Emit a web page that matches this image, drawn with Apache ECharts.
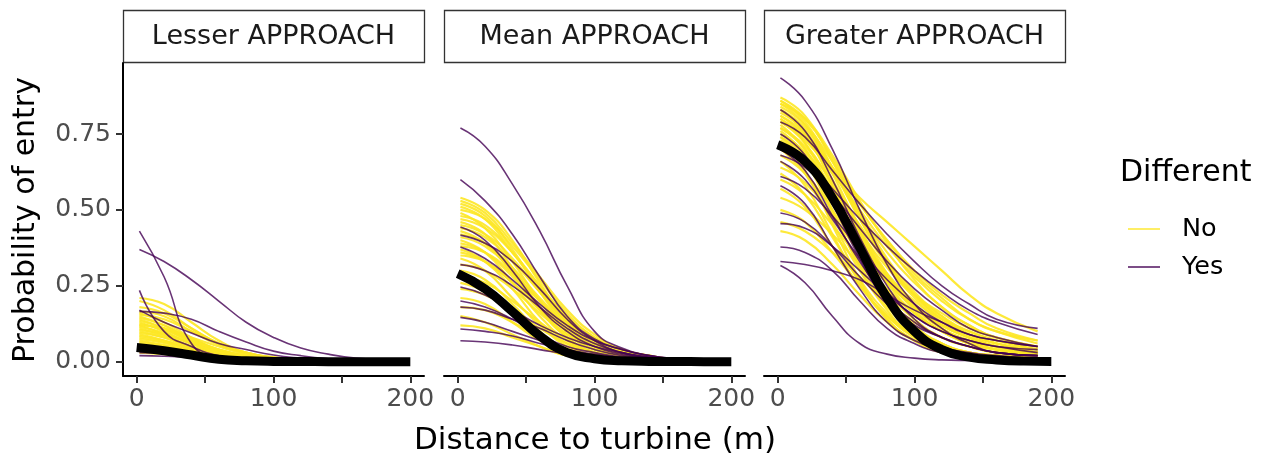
<!DOCTYPE html>
<html>
<head>
<meta charset="utf-8">
<script src="https://cdn.jsdelivr.net/npm/echarts@6/dist/echarts.min.js"></script>
<style>
html,body{margin:0;padding:0;background:#fff;}
#chart{width:1264px;height:460px;}
</style>
</head>
<body>
<div id="chart"></div>
<script>
// ---------------- DATA ----------------
const facetNames = ['Lesser APPROACH', 'Mean APPROACH', 'Greater APPROACH'];
const distance = [2, 20, 40, 60, 80, 100, 120, 140, 160, 190];
const meanDistance = [0, 20, 40, 60, 80, 100, 120, 140, 160, 180, 200];
const xTickValues = [0, 50, 100, 150, 200];
const xLabelValues = [0, 100, 200];
const yTickValues = [0, 0.25, 0.5, 0.75];
const legendNames = ['No', 'Yes'];

// Lesser APPROACH
const lesserNo = [
  [0.21, 0.19, 0.13, 0.07, 0.03, 0.015, 0.007, 0.003, 0.001, 0.001],
  [0.20, 0.17, 0.11, 0.06, 0.028, 0.012, 0.005, 0.002, 0.001, 0.001],
  [0.18, 0.16, 0.11, 0.06, 0.03, 0.012, 0.005, 0.002, 0.001, 0.001],
  [0.165, 0.15, 0.10, 0.055, 0.028, 0.013, 0.006, 0.003, 0.001, 0.001],
  [0.16, 0.13, 0.08, 0.04, 0.02, 0.008, 0.003, 0.001, 0.001, 0.001],
  [0.155, 0.14, 0.10, 0.06, 0.03, 0.014, 0.006, 0.003, 0.001, 0.001],
  [0.15, 0.12, 0.07, 0.035, 0.015, 0.006, 0.003, 0.001, 0.001, 0.001],
  [0.145, 0.12, 0.075, 0.04, 0.018, 0.008, 0.003, 0.001, 0.001, 0.001],
  [0.14, 0.11, 0.065, 0.03, 0.013, 0.005, 0.002, 0.001, 0.001, 0.001],
  [0.135, 0.11, 0.07, 0.038, 0.018, 0.008, 0.003, 0.001, 0.001, 0.001],
  [0.13, 0.10, 0.06, 0.03, 0.012, 0.005, 0.002, 0.001, 0.001, 0.001],
  [0.125, 0.105, 0.07, 0.04, 0.02, 0.009, 0.004, 0.002, 0.001, 0.001],
  [0.12, 0.11, 0.08, 0.05, 0.025, 0.012, 0.006, 0.003, 0.001, 0.001],
  [0.12, 0.09, 0.05, 0.025, 0.01, 0.004, 0.002, 0.001, 0.001, 0.001],
  [0.115, 0.095, 0.06, 0.03, 0.014, 0.006, 0.003, 0.001, 0.001, 0.001],
  [0.11, 0.085, 0.05, 0.024, 0.01, 0.004, 0.002, 0.001, 0.001, 0.001],
  [0.105, 0.09, 0.06, 0.032, 0.015, 0.007, 0.003, 0.001, 0.001, 0.001],
  [0.10, 0.08, 0.045, 0.02, 0.009, 0.004, 0.002, 0.001, 0.001, 0.001],
  [0.095, 0.08, 0.05, 0.026, 0.012, 0.005, 0.002, 0.001, 0.001, 0.001],
  [0.09, 0.07, 0.04, 0.02, 0.008, 0.003, 0.001, 0.001, 0.001, 0.001],
  [0.085, 0.07, 0.045, 0.024, 0.011, 0.005, 0.002, 0.001, 0.001, 0.001],
  [0.08, 0.065, 0.04, 0.018, 0.008, 0.003, 0.001, 0.001, 0.001, 0.001],
  [0.075, 0.062, 0.04, 0.02, 0.01, 0.004, 0.002, 0.001, 0.001, 0.001],
  [0.07, 0.055, 0.035, 0.016, 0.007, 0.003, 0.001, 0.001, 0.001, 0.001],
  [0.065, 0.054, 0.034, 0.018, 0.008, 0.003, 0.001, 0.001, 0.001, 0.001],
  [0.06, 0.05, 0.03, 0.014, 0.006, 0.002, 0.001, 0.001, 0.001, 0.001],
  [0.05, 0.04, 0.025, 0.012, 0.005, 0.002, 0.001, 0.001, 0.001, 0.001],
  [0.04, 0.032, 0.02, 0.01, 0.004, 0.002, 0.001, 0.001, 0.001, 0.001],
  [0.03, 0.025, 0.016, 0.008, 0.003, 0.001, 0.001, 0.001, 0.001, 0.001]
];
const lesserYes = [
  [0.43, 0.28, 0.06, 0.015, 0.006, 0.003, 0.002, 0.001, 0.001, 0.001],
  [0.37, 0.33, 0.27, 0.20, 0.13, 0.08, 0.045, 0.025, 0.012, 0.005],
  [0.235, 0.10, 0.05, 0.02, 0.008, 0.004, 0.002, 0.001, 0.001, 0.001],
  [0.166, 0.16, 0.14, 0.10, 0.065, 0.035, 0.02, 0.01, 0.005, 0.002],
  [0.17, 0.13, 0.095, 0.06, 0.04, 0.022, 0.012, 0.006, 0.003, 0.001],
  [0.04, 0.035, 0.025, 0.015, 0.008, 0.004, 0.002, 0.001, 0.001, 0.001],
  [0.03, 0.028, 0.022, 0.015, 0.009, 0.005, 0.003, 0.001, 0.001, 0.001],
  [0.02, 0.018, 0.014, 0.01, 0.006, 0.003, 0.002, 0.001, 0.001, 0.001]
];
const lesserMean = [0.047, 0.036, 0.022, 0.008, 0.003, 0.001, 0.0005, 0.0003, 0.0002, 0.0001, 0.0001];

// Mean APPROACH
const meanNo = [
  [0.54, 0.50, 0.40, 0.26, 0.14, 0.07, 0.03, 0.01, 0.005, 0.002],
  [0.53, 0.49, 0.39, 0.28, 0.17, 0.09, 0.04, 0.02, 0.008, 0.003],
  [0.52, 0.48, 0.37, 0.23, 0.12, 0.05, 0.02, 0.01, 0.004, 0.001],
  [0.51, 0.47, 0.36, 0.24, 0.13, 0.06, 0.025, 0.01, 0.004, 0.001],
  [0.50, 0.47, 0.38, 0.27, 0.16, 0.08, 0.04, 0.02, 0.008, 0.003],
  [0.49, 0.44, 0.33, 0.20, 0.10, 0.04, 0.02, 0.008, 0.003, 0.001],
  [0.48, 0.45, 0.36, 0.25, 0.15, 0.08, 0.035, 0.015, 0.006, 0.002],
  [0.47, 0.44, 0.36, 0.25, 0.14, 0.07, 0.03, 0.01, 0.005, 0.002],
  [0.46, 0.42, 0.31, 0.18, 0.08, 0.03, 0.01, 0.005, 0.002, 0.001],
  [0.45, 0.42, 0.34, 0.23, 0.13, 0.06, 0.03, 0.01, 0.005, 0.002],
  [0.44, 0.41, 0.33, 0.23, 0.13, 0.06, 0.03, 0.01, 0.005, 0.002],
  [0.43, 0.39, 0.29, 0.17, 0.08, 0.03, 0.01, 0.005, 0.002, 0.001],
  [0.42, 0.39, 0.31, 0.21, 0.12, 0.06, 0.025, 0.01, 0.004, 0.001],
  [0.41, 0.38, 0.30, 0.20, 0.11, 0.05, 0.02, 0.01, 0.004, 0.001],
  [0.40, 0.36, 0.26, 0.15, 0.07, 0.03, 0.01, 0.004, 0.002, 0.001],
  [0.39, 0.36, 0.28, 0.18, 0.10, 0.05, 0.02, 0.01, 0.004, 0.001],
  [0.38, 0.36, 0.29, 0.20, 0.12, 0.06, 0.03, 0.01, 0.005, 0.002],
  [0.37, 0.33, 0.24, 0.13, 0.06, 0.02, 0.01, 0.004, 0.002, 0.001],
  [0.36, 0.33, 0.26, 0.17, 0.09, 0.04, 0.02, 0.008, 0.003, 0.001],
  [0.35, 0.33, 0.26, 0.18, 0.10, 0.05, 0.02, 0.01, 0.004, 0.001],
  [0.34, 0.30, 0.21, 0.12, 0.05, 0.02, 0.01, 0.003, 0.001, 0.001],
  [0.32, 0.30, 0.24, 0.16, 0.09, 0.04, 0.02, 0.01, 0.003, 0.001],
  [0.30, 0.27, 0.19, 0.10, 0.04, 0.02, 0.01, 0.003, 0.001, 0.001],
  [0.28, 0.26, 0.20, 0.13, 0.07, 0.03, 0.01, 0.005, 0.002, 0.001],
  [0.26, 0.23, 0.16, 0.08, 0.03, 0.01, 0.005, 0.002, 0.001, 0.001],
  [0.24, 0.22, 0.17, 0.11, 0.06, 0.03, 0.01, 0.004, 0.002, 0.001],
  [0.21, 0.19, 0.13, 0.07, 0.03, 0.01, 0.004, 0.002, 0.001, 0.001],
  [0.18, 0.17, 0.13, 0.08, 0.04, 0.02, 0.01, 0.003, 0.001, 0.001],
  [0.15, 0.13, 0.09, 0.05, 0.02, 0.01, 0.003, 0.001, 0.001, 0.001],
  [0.12, 0.11, 0.08, 0.05, 0.02, 0.01, 0.004, 0.002, 0.001, 0.001]
];
const meanYes = [
  [0.77, 0.71, 0.585, 0.43, 0.25, 0.10, 0.045, 0.02, 0.01, 0.004],
  [0.60, 0.53, 0.42, 0.28, 0.15, 0.075, 0.04, 0.02, 0.01, 0.004],
  [0.444, 0.40, 0.30, 0.18, 0.10, 0.05, 0.025, 0.012, 0.006, 0.002],
  [0.417, 0.39, 0.33, 0.24, 0.14, 0.07, 0.03, 0.015, 0.007, 0.003],
  [0.378, 0.34, 0.27, 0.19, 0.12, 0.07, 0.04, 0.02, 0.01, 0.004],
  [0.32, 0.30, 0.25, 0.18, 0.11, 0.06, 0.03, 0.015, 0.007, 0.003],
  [0.246, 0.22, 0.17, 0.12, 0.08, 0.05, 0.03, 0.015, 0.008, 0.003],
  [0.20, 0.18, 0.14, 0.09, 0.05, 0.03, 0.015, 0.008, 0.004, 0.002],
  [0.18, 0.17, 0.14, 0.11, 0.07, 0.04, 0.02, 0.01, 0.005, 0.002],
  [0.146, 0.13, 0.10, 0.07, 0.04, 0.02, 0.01, 0.005, 0.003, 0.001],
  [0.108, 0.10, 0.085, 0.06, 0.04, 0.025, 0.013, 0.006, 0.003, 0.001],
  [0.069, 0.065, 0.055, 0.04, 0.025, 0.015, 0.008, 0.004, 0.002, 0.001]
];
const meanMean = [0.29, 0.24, 0.165, 0.085, 0.03, 0.01, 0.003, 0.001, 0.0005, 0.0003, 0.0002];

// Greater APPROACH
const greaterNo = [
  [0.80, 0.74, 0.64, 0.54, 0.46, 0.38, 0.30, 0.22, 0.16, 0.10],
  [0.86, 0.80, 0.67, 0.52, 0.40, 0.30, 0.22, 0.16, 0.11, 0.07],
  [0.87, 0.81, 0.66, 0.49, 0.34, 0.23, 0.15, 0.09, 0.06, 0.03],
  [0.85, 0.78, 0.62, 0.44, 0.29, 0.18, 0.11, 0.06, 0.04, 0.02],
  [0.84, 0.78, 0.66, 0.52, 0.40, 0.29, 0.21, 0.14, 0.10, 0.06],
  [0.83, 0.75, 0.58, 0.38, 0.22, 0.12, 0.06, 0.03, 0.02, 0.01],
  [0.82, 0.76, 0.63, 0.49, 0.36, 0.26, 0.18, 0.12, 0.08, 0.05],
  [0.81, 0.74, 0.60, 0.43, 0.28, 0.17, 0.10, 0.06, 0.03, 0.02],
  [0.80, 0.72, 0.55, 0.36, 0.21, 0.11, 0.06, 0.03, 0.02, 0.01],
  [0.79, 0.73, 0.62, 0.50, 0.38, 0.28, 0.20, 0.14, 0.10, 0.07],
  [0.78, 0.70, 0.54, 0.37, 0.23, 0.14, 0.08, 0.05, 0.03, 0.02],
  [0.77, 0.71, 0.59, 0.45, 0.32, 0.22, 0.15, 0.10, 0.07, 0.04],
  [0.76, 0.68, 0.50, 0.31, 0.17, 0.08, 0.04, 0.02, 0.01, 0.01],
  [0.75, 0.69, 0.57, 0.43, 0.31, 0.22, 0.16, 0.11, 0.08, 0.05],
  [0.74, 0.66, 0.49, 0.32, 0.19, 0.11, 0.06, 0.03, 0.02, 0.01],
  [0.73, 0.67, 0.55, 0.41, 0.29, 0.20, 0.14, 0.10, 0.07, 0.04],
  [0.72, 0.63, 0.45, 0.27, 0.14, 0.07, 0.03, 0.02, 0.01, 0.01],
  [0.71, 0.65, 0.53, 0.40, 0.28, 0.19, 0.12, 0.08, 0.05, 0.03],
  [0.70, 0.62, 0.46, 0.30, 0.18, 0.10, 0.05, 0.03, 0.02, 0.01],
  [0.68, 0.62, 0.50, 0.37, 0.26, 0.18, 0.12, 0.08, 0.05, 0.03],
  [0.66, 0.58, 0.42, 0.26, 0.14, 0.07, 0.04, 0.02, 0.01, 0.01],
  [0.64, 0.59, 0.48, 0.36, 0.26, 0.18, 0.12, 0.08, 0.05, 0.03],
  [0.62, 0.55, 0.41, 0.27, 0.16, 0.09, 0.05, 0.03, 0.02, 0.01],
  [0.60, 0.55, 0.45, 0.34, 0.24, 0.16, 0.10, 0.07, 0.04, 0.03],
  [0.57, 0.51, 0.38, 0.25, 0.15, 0.08, 0.04, 0.02, 0.01, 0.01],
  [0.54, 0.50, 0.42, 0.32, 0.23, 0.16, 0.10, 0.07, 0.05, 0.03],
  [0.50, 0.46, 0.36, 0.25, 0.15, 0.09, 0.05, 0.03, 0.02, 0.01],
  [0.46, 0.43, 0.36, 0.28, 0.20, 0.13, 0.08, 0.05, 0.03, 0.02],
  [0.43, 0.40, 0.32, 0.22, 0.13, 0.07, 0.04, 0.02, 0.01, 0.01],
  [0.86, 0.79, 0.64, 0.47, 0.32, 0.21, 0.13, 0.08, 0.05, 0.03],
  [0.85, 0.80, 0.68, 0.53, 0.39, 0.27, 0.18, 0.12, 0.08, 0.05],
  [0.83, 0.77, 0.64, 0.48, 0.33, 0.22, 0.14, 0.09, 0.06, 0.04],
  [0.81, 0.75, 0.63, 0.47, 0.33, 0.22, 0.14, 0.09, 0.06, 0.03],
  [0.79, 0.72, 0.58, 0.42, 0.28, 0.18, 0.11, 0.07, 0.04, 0.02],
  [0.77, 0.70, 0.56, 0.40, 0.26, 0.16, 0.10, 0.06, 0.04, 0.02],
  [0.74, 0.68, 0.55, 0.40, 0.27, 0.18, 0.12, 0.08, 0.05, 0.03]
];
const greaterYes = [
  [0.935, 0.86, 0.70, 0.50, 0.32, 0.19, 0.11, 0.06, 0.03, 0.02],
  [0.79, 0.74, 0.63, 0.52, 0.42, 0.33, 0.25, 0.19, 0.14, 0.11],
  [0.72, 0.67, 0.57, 0.47, 0.38, 0.30, 0.23, 0.17, 0.13, 0.09],
  [0.83, 0.76, 0.60, 0.41, 0.25, 0.14, 0.08, 0.05, 0.03, 0.02],
  [0.75, 0.68, 0.52, 0.34, 0.19, 0.10, 0.05, 0.03, 0.02, 0.01],
  [0.70, 0.63, 0.48, 0.33, 0.21, 0.13, 0.08, 0.05, 0.03, 0.02],
  [0.68, 0.64, 0.55, 0.44, 0.33, 0.24, 0.17, 0.11, 0.08, 0.05],
  [0.66, 0.60, 0.47, 0.34, 0.23, 0.15, 0.10, 0.07, 0.05, 0.04],
  [0.61, 0.57, 0.48, 0.37, 0.27, 0.19, 0.13, 0.09, 0.07, 0.05],
  [0.58, 0.52, 0.38, 0.24, 0.13, 0.07, 0.04, 0.02, 0.01, 0.01],
  [0.49, 0.46, 0.38, 0.28, 0.19, 0.12, 0.08, 0.05, 0.03, 0.02],
  [0.455, 0.44, 0.38, 0.30, 0.22, 0.15, 0.10, 0.07, 0.05, 0.03],
  [0.378, 0.36, 0.30, 0.20, 0.11, 0.06, 0.03, 0.02, 0.01, 0.01],
  [0.33, 0.32, 0.30, 0.27, 0.22, 0.17, 0.13, 0.09, 0.07, 0.05],
  [0.317, 0.26, 0.15, 0.06, 0.025, 0.012, 0.006, 0.004, 0.003, 0.002]
];
const greaterMean = [0.715, 0.66, 0.54, 0.375, 0.21, 0.10, 0.04, 0.015, 0.006, 0.002, 0.001];

const panelNo = [lesserNo, meanNo, greaterNo];
const panelYes = [lesserYes, meanYes, greaterYes];
const panelMean = [lesserMean, meanMean, greaterMean];

// ---------------- LAYOUT / STYLE ----------------
const FONT = 'DejaVu Sans';
const GRID_LEFT = [123, 444, 764];
const GRID_W = 301;
const GRID_TOP = 63;
const GRID_H = 313;
const YELLOW = '#FDE725';
const PURPLE = '#440154';

const grids = GRID_LEFT.map(l => ({left: l, top: GRID_TOP, width: GRID_W, height: GRID_H, containLabel: false}));

const xAxes = GRID_LEFT.map((l, i) => ({
  type: 'value', gridIndex: i, min: -10, max: 210,
  splitLine: {show: false},
  axisLine: {show: true, onZero: false, lineStyle: {color: '#000', width: 2}},
  axisTick: {show: true, customValues: xTickValues, length: 7, lineStyle: {color: '#333', width: 2}},
  axisLabel: {show: true, customValues: xLabelValues, fontFamily: FONT, fontSize: 25, color: '#4D4D4D', margin: 11}
}));

const yAxes = GRID_LEFT.map((l, i) => ({
  type: 'value', gridIndex: i, min: -0.047, max: 0.984,
  splitLine: {show: false},
  axisLine: {show: i === 0, onZero: false, lineStyle: {color: '#000', width: 2}},
  axisTick: {show: i === 0, customValues: yTickValues, length: 7, lineStyle: {color: '#333', width: 2}},
  axisLabel: {show: i === 0, customValues: yTickValues, fontFamily: FONT, fontSize: 25, color: '#4D4D4D', margin: 12,
    formatter: v => v.toFixed(2)}
}));

const series = [];
function addLines(p, arr, name, color, width, opacity, z) {
  arr.forEach(vals => {
    series.push({
      type: 'line', name: name, xAxisIndex: p, yAxisIndex: p,
      data: distance.map((d, k) => [d, vals[k]]),
      showSymbol: false, symbol: 'none', smooth: 0.5,
      silent: true, z: z,
      lineStyle: {color: color, width: width, opacity: opacity},
      itemStyle: {color: color}
    });
  });
}
for (let p = 0; p < 3; p++) {
  addLines(p, panelNo[p], 'No', YELLOW, 2.2, 0.9, 2);
  addLines(p, panelYes[p], 'Yes', PURPLE, 1.6, 0.8, 3);
  series.push({
    type: 'line', name: 'mean', xAxisIndex: p, yAxisIndex: p,
    data: meanDistance.map((d, k) => [d, panelMean[p][k]]),
    showSymbol: false, symbol: 'none', smooth: 0.5,
    silent: true, z: 4,
    lineStyle: {color: '#000', width: 9, cap: 'butt', join: 'round'}
  });
}

const graphics = [];
facetNames.forEach((name, i) => {
  graphics.push({
    type: 'rect', silent: true,
    shape: {x: GRID_LEFT[i] + 0.5, y: 10.5, width: GRID_W, height: 52},
    style: {fill: '#fff', stroke: '#333', lineWidth: 1.3}
  });
  graphics.push({
    type: 'text', silent: true,
    x: GRID_LEFT[i] + GRID_W / 2, y: 37,
    style: {text: name, font: '27px "' + FONT + '"', fill: '#1A1A1A', align: 'center', verticalAlign: 'middle'}
  });
});
graphics.push({
  type: 'text', silent: true, x: 26, y: 220, rotation: Math.PI / 2,
  style: {text: 'Probability of entry', font: '30px "' + FONT + '"', fill: '#000', align: 'center', verticalAlign: 'middle'}
});
graphics.push({
  type: 'text', silent: true, x: 595, y: 441,
  style: {text: 'Distance to turbine (m)', font: '31px "' + FONT + '"', fill: '#000', align: 'center', verticalAlign: 'middle'}
});
graphics.push({
  type: 'text', silent: true, x: 1120, y: 173,
  style: {text: 'Different', font: '30px "' + FONT + '"', fill: '#000', align: 'left', verticalAlign: 'middle'}
});

const option = {
  animation: false,
  backgroundColor: '#fff',
  grid: grids,
  xAxis: xAxes,
  yAxis: yAxes,
  legend: {
    orient: 'vertical', left: 1123, top: 211, itemWidth: 32, itemHeight: 2, itemGap: 12,
    icon: 'rect', selectedMode: false,
    data: [
      {name: legendNames[0], itemStyle: {color: 'rgba(253,231,37,0.7)'}},
      {name: legendNames[1], itemStyle: {color: 'rgba(68,1,84,0.7)'}}
    ],
    textStyle: {fontFamily: FONT, fontSize: 25.5, color: '#000', padding: [0, 0, 0, 17]}
  },
  graphic: graphics,
  series: series
};

const chart = echarts.init(document.getElementById('chart'), null, {renderer: 'canvas'});
chart.setOption(option);
</script>
</body>
</html>
